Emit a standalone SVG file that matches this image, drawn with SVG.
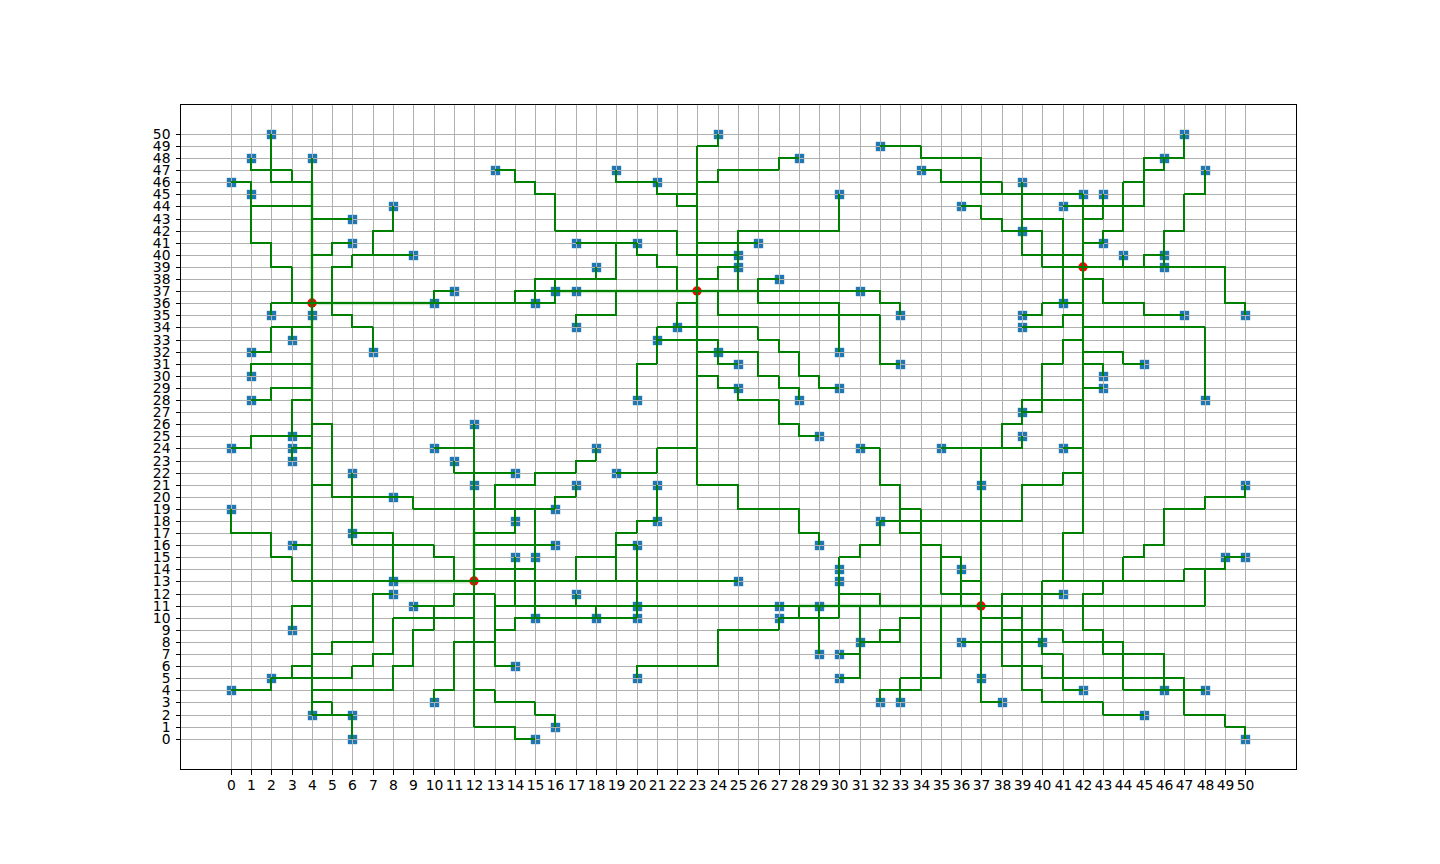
<svg xmlns="http://www.w3.org/2000/svg" width="1440" height="864" viewBox="0 0 1440 864">
<style>
text{font-family:"DejaVu Sans",sans-serif;font-size:13.89px;fill:#000}
.xl text{text-anchor:middle}
.yl text{text-anchor:end}
.gl{fill:none;stroke:#b0b0b0;stroke-width:1;vector-effect:non-scaling-stroke;shape-rendering:crispEdges}
.tk{fill:none;stroke:#000;stroke-width:1;vector-effect:non-scaling-stroke;shape-rendering:crispEdges}
#connectors path{fill:none;stroke:#008000;stroke-width:2;stroke-linejoin:round;vector-effect:non-scaling-stroke;shape-rendering:crispEdges}
#halos path{fill:none;stroke:#008000;stroke-opacity:.18;stroke-width:4;vector-effect:non-scaling-stroke}
</style>
<defs>
<g id="m"><rect x="-5.5" y="-5.5" width="11" height="11" rx="2" fill="#1f77b4" fill-opacity=".2"/><rect x="-4.5" y="-4.5" width="9" height="9" fill="#1f77b4"/></g>
<circle id="r" cx="-.5" cy="-.5" r="4.7" fill="#f00"/>
</defs>
<rect width="1440" height="864" fill="#fff"/>
<g id="nodes" transform="translate(.5 .5)">
<g id="n2_50"><use href="#m" x="271" y="134"/></g>
<g id="n1_48"><use href="#m" x="251" y="158"/></g>
<g id="n4_48"><use href="#m" x="312" y="158"/></g>
<g id="n0_46"><use href="#m" x="231" y="182"/></g>
<g id="n1_45"><use href="#m" x="251" y="194"/></g>
<g id="n6_43"><use href="#m" x="352" y="219"/></g>
<g id="n8_44"><use href="#m" x="393" y="206"/></g>
<g id="n6_41"><use href="#m" x="352" y="243"/></g>
<g id="n9_40"><use href="#m" x="413" y="255"/></g>
<g id="n11_37"><use href="#m" x="454" y="291"/></g>
<g id="n10_36"><use href="#m" x="434" y="303"/></g>
<g id="n2_35"><use href="#m" x="271" y="315"/></g>
<g id="n4_35"><use href="#m" x="312" y="315"/></g>
<g id="n3_33"><use href="#m" x="292" y="340"/></g>
<g id="n7_32"><use href="#m" x="373" y="352"/></g>
<g id="n1_32"><use href="#m" x="251" y="352"/></g>
<g id="n1_30"><use href="#m" x="251" y="376"/></g>
<g id="n1_28"><use href="#m" x="251" y="400"/></g>
<g id="n3_25"><use href="#m" x="292" y="436"/></g>
<g id="n0_24"><use href="#m" x="231" y="448"/></g>
<g id="n3_24"><use href="#m" x="292" y="448"/></g>
<g id="n3_23"><use href="#m" x="292" y="461"/></g>
<g id="n10_24"><use href="#m" x="434" y="448"/></g>
<g id="n11_23"><use href="#m" x="454" y="461"/></g>
<g id="n12_26"><use href="#m" x="474" y="424"/></g>
<g id="n6_22"><use href="#m" x="352" y="473"/></g>
<g id="n8_20"><use href="#m" x="393" y="497"/></g>
<g id="n0_19"><use href="#m" x="231" y="509"/></g>
<g id="n6_17"><use href="#m" x="352" y="533"/></g>
<g id="n3_16"><use href="#m" x="292" y="545"/></g>
<g id="n8_13"><use href="#m" x="393" y="581"/></g>
<g id="n8_12"><use href="#m" x="393" y="594"/></g>
<g id="n3_9"><use href="#m" x="292" y="630"/></g>
<g id="n9_11"><use href="#m" x="413" y="606"/></g>
<g id="n2_5"><use href="#m" x="271" y="678"/></g>
<g id="n0_4"><use href="#m" x="231" y="690"/></g>
<g id="n4_2"><use href="#m" x="312" y="715"/></g>
<g id="n6_2"><use href="#m" x="352" y="715"/></g>
<g id="n6_0"><use href="#m" x="352" y="739"/></g>
<g id="n10_3"><use href="#m" x="434" y="702"/></g>
<g id="n13_47"><use href="#m" x="495" y="170"/></g>
<g id="n19_47"><use href="#m" x="616" y="170"/></g>
<g id="n21_46"><use href="#m" x="657" y="182"/></g>
<g id="n24_50"><use href="#m" x="718" y="134"/></g>
<g id="n17_41"><use href="#m" x="576" y="243"/></g>
<g id="n20_41"><use href="#m" x="637" y="243"/></g>
<g id="n18_39"><use href="#m" x="596" y="267"/></g>
<g id="n15_36"><use href="#m" x="535" y="303"/></g>
<g id="n16_37"><use href="#m" x="555" y="291"/></g>
<g id="n17_37"><use href="#m" x="576" y="291"/></g>
<g id="n17_34"><use href="#m" x="576" y="327"/></g>
<g id="n22_34"><use href="#m" x="677" y="327"/></g>
<g id="n21_33"><use href="#m" x="657" y="340"/></g>
<g id="n24_32"><use href="#m" x="718" y="352"/></g>
<g id="n20_28"><use href="#m" x="637" y="400"/></g>
<g id="n18_24"><use href="#m" x="596" y="448"/></g>
<g id="n14_22"><use href="#m" x="515" y="473"/></g>
<g id="n12_21"><use href="#m" x="474" y="485"/></g>
<g id="n17_21"><use href="#m" x="576" y="485"/></g>
<g id="n19_22"><use href="#m" x="616" y="473"/></g>
<g id="n21_21"><use href="#m" x="657" y="485"/></g>
<g id="n21_18"><use href="#m" x="657" y="521"/></g>
<g id="n20_16"><use href="#m" x="637" y="545"/></g>
<g id="n16_19"><use href="#m" x="555" y="509"/></g>
<g id="n14_18"><use href="#m" x="515" y="521"/></g>
<g id="n16_16"><use href="#m" x="555" y="545"/></g>
<g id="n14_15"><use href="#m" x="515" y="557"/></g>
<g id="n15_15"><use href="#m" x="535" y="557"/></g>
<g id="n17_12"><use href="#m" x="576" y="594"/></g>
<g id="n15_10"><use href="#m" x="535" y="618"/></g>
<g id="n18_10"><use href="#m" x="596" y="618"/></g>
<g id="n20_11"><use href="#m" x="637" y="606"/></g>
<g id="n20_10"><use href="#m" x="637" y="618"/></g>
<g id="n14_6"><use href="#m" x="515" y="666"/></g>
<g id="n20_5"><use href="#m" x="637" y="678"/></g>
<g id="n15_0"><use href="#m" x="535" y="739"/></g>
<g id="n16_1"><use href="#m" x="555" y="727"/></g>
<g id="n28_48"><use href="#m" x="799" y="158"/></g>
<g id="n30_45"><use href="#m" x="839" y="194"/></g>
<g id="n26_41"><use href="#m" x="758" y="243"/></g>
<g id="n25_40"><use href="#m" x="738" y="255"/></g>
<g id="n25_39"><use href="#m" x="738" y="267"/></g>
<g id="n27_38"><use href="#m" x="779" y="279"/></g>
<g id="n32_49"><use href="#m" x="880" y="146"/></g>
<g id="n34_47"><use href="#m" x="921" y="170"/></g>
<g id="n36_44"><use href="#m" x="961" y="206"/></g>
<g id="n31_37"><use href="#m" x="860" y="291"/></g>
<g id="n33_35"><use href="#m" x="900" y="315"/></g>
<g id="n30_32"><use href="#m" x="839" y="352"/></g>
<g id="n33_31"><use href="#m" x="900" y="364"/></g>
<g id="n25_31"><use href="#m" x="738" y="364"/></g>
<g id="n30_29"><use href="#m" x="839" y="388"/></g>
<g id="n25_29"><use href="#m" x="738" y="388"/></g>
<g id="n28_28"><use href="#m" x="799" y="400"/></g>
<g id="n29_25"><use href="#m" x="819" y="436"/></g>
<g id="n31_24"><use href="#m" x="860" y="448"/></g>
<g id="n35_24"><use href="#m" x="941" y="448"/></g>
<g id="n37_21"><use href="#m" x="981" y="485"/></g>
<g id="n32_18"><use href="#m" x="880" y="521"/></g>
<g id="n29_16"><use href="#m" x="819" y="545"/></g>
<g id="n25_13"><use href="#m" x="738" y="581"/></g>
<g id="n27_11"><use href="#m" x="779" y="606"/></g>
<g id="n29_11"><use href="#m" x="819" y="606"/></g>
<g id="n27_10"><use href="#m" x="779" y="618"/></g>
<g id="n30_14"><use href="#m" x="839" y="569"/></g>
<g id="n30_13"><use href="#m" x="839" y="581"/></g>
<g id="n31_8"><use href="#m" x="860" y="642"/></g>
<g id="n29_7"><use href="#m" x="819" y="654"/></g>
<g id="n30_7"><use href="#m" x="839" y="654"/></g>
<g id="n30_5"><use href="#m" x="839" y="678"/></g>
<g id="n32_3"><use href="#m" x="880" y="702"/></g>
<g id="n33_3"><use href="#m" x="900" y="702"/></g>
<g id="n36_14"><use href="#m" x="961" y="569"/></g>
<g id="n36_8"><use href="#m" x="961" y="642"/></g>
<g id="n37_5"><use href="#m" x="981" y="678"/></g>
<g id="n38_3"><use href="#m" x="1002" y="702"/></g>
<g id="n39_46"><use href="#m" x="1022" y="182"/></g>
<g id="n42_45"><use href="#m" x="1083" y="194"/></g>
<g id="n43_45"><use href="#m" x="1103" y="194"/></g>
<g id="n41_44"><use href="#m" x="1063" y="206"/></g>
<g id="n39_42"><use href="#m" x="1022" y="231"/></g>
<g id="n43_41"><use href="#m" x="1103" y="243"/></g>
<g id="n44_40"><use href="#m" x="1123" y="255"/></g>
<g id="n46_40"><use href="#m" x="1164" y="255"/></g>
<g id="n46_39"><use href="#m" x="1164" y="267"/></g>
<g id="n47_50"><use href="#m" x="1184" y="134"/></g>
<g id="n46_48"><use href="#m" x="1164" y="158"/></g>
<g id="n48_47"><use href="#m" x="1205" y="170"/></g>
<g id="n41_36"><use href="#m" x="1063" y="303"/></g>
<g id="n39_35"><use href="#m" x="1022" y="315"/></g>
<g id="n39_34"><use href="#m" x="1022" y="327"/></g>
<g id="n47_35"><use href="#m" x="1184" y="315"/></g>
<g id="n50_35"><use href="#m" x="1245" y="315"/></g>
<g id="n48_28"><use href="#m" x="1205" y="400"/></g>
<g id="n45_31"><use href="#m" x="1144" y="364"/></g>
<g id="n43_30"><use href="#m" x="1103" y="376"/></g>
<g id="n43_29"><use href="#m" x="1103" y="388"/></g>
<g id="n39_27"><use href="#m" x="1022" y="412"/></g>
<g id="n39_25"><use href="#m" x="1022" y="436"/></g>
<g id="n41_24"><use href="#m" x="1063" y="448"/></g>
<g id="n50_21"><use href="#m" x="1245" y="485"/></g>
<g id="n49_15"><use href="#m" x="1225" y="557"/></g>
<g id="n50_15"><use href="#m" x="1245" y="557"/></g>
<g id="n41_12"><use href="#m" x="1063" y="594"/></g>
<g id="n40_8"><use href="#m" x="1042" y="642"/></g>
<g id="n42_4"><use href="#m" x="1083" y="690"/></g>
<g id="n46_4"><use href="#m" x="1164" y="690"/></g>
<g id="n48_4"><use href="#m" x="1205" y="690"/></g>
<g id="n45_2"><use href="#m" x="1144" y="715"/></g>
<g id="n50_0"><use href="#m" x="1245" y="739"/></g>
<g id="s4_36"><use href="#r" x="312" y="303"/></g>
<g id="s23_37"><use href="#r" x="697" y="291"/></g>
<g id="s42_39"><use href="#r" x="1083" y="267"/></g>
<g id="s12_13"><use href="#r" x="474" y="581"/></g>
<g id="s37_11"><use href="#r" x="981" y="606"/></g>
</g>
<g id="grid" transform="matrix(20.29 0 0 -12.096 231.23 739.22)">
<path class="gl" d="M0-2.5V52.5M1-2.5V52.5M2-2.5V52.5M3-2.5V52.5M4-2.5V52.5M5-2.5V52.5M6-2.5V52.5M7-2.5V52.5M8-2.5V52.5M9-2.5V52.5M10-2.5V52.5M11-2.5V52.5M12-2.5V52.5M13-2.5V52.5M14-2.5V52.5M15-2.5V52.5M16-2.5V52.5M17-2.5V52.5M18-2.5V52.5M19-2.5V52.5M20-2.5V52.5M21-2.5V52.5M22-2.5V52.5M23-2.5V52.5M24-2.5V52.5M25-2.5V52.5M26-2.5V52.5M27-2.5V52.5M28-2.5V52.5M29-2.5V52.5M30-2.5V52.5M31-2.5V52.5M32-2.5V52.5M33-2.5V52.5M34-2.5V52.5M35-2.5V52.5M36-2.5V52.5M37-2.5V52.5M38-2.5V52.5M39-2.5V52.5M40-2.5V52.5M41-2.5V52.5M42-2.5V52.5M43-2.5V52.5M44-2.5V52.5M45-2.5V52.5M46-2.5V52.5M47-2.5V52.5M48-2.5V52.5M49-2.5V52.5M50-2.5V52.5"/>
<path class="gl" d="M-2.5 0H52.5M-2.5 1H52.5M-2.5 2H52.5M-2.5 3H52.5M-2.5 4H52.5M-2.5 5H52.5M-2.5 6H52.5M-2.5 7H52.5M-2.5 8H52.5M-2.5 9H52.5M-2.5 10H52.5M-2.5 11H52.5M-2.5 12H52.5M-2.5 13H52.5M-2.5 14H52.5M-2.5 15H52.5M-2.5 16H52.5M-2.5 17H52.5M-2.5 18H52.5M-2.5 19H52.5M-2.5 20H52.5M-2.5 21H52.5M-2.5 22H52.5M-2.5 23H52.5M-2.5 24H52.5M-2.5 25H52.5M-2.5 26H52.5M-2.5 27H52.5M-2.5 28H52.5M-2.5 29H52.5M-2.5 30H52.5M-2.5 31H52.5M-2.5 32H52.5M-2.5 33H52.5M-2.5 34H52.5M-2.5 35H52.5M-2.5 36H52.5M-2.5 37H52.5M-2.5 38H52.5M-2.5 39H52.5M-2.5 40H52.5M-2.5 41H52.5M-2.5 42H52.5M-2.5 43H52.5M-2.5 44H52.5M-2.5 45H52.5M-2.5 46H52.5M-2.5 47H52.5M-2.5 48H52.5M-2.5 49H52.5M-2.5 50H52.5"/>
</g>
<g id="halos" transform="matrix(20.29 0 0 -12.096 230.73 738.72)">
<path d="M4 46V28M4 36H10M16 37H26M23 37V34M12 18V13M8 13H12M28 11H37"/>
</g>
<g id="connectors" transform="matrix(20.29 0 0 -12.096 230.73 738.72)">
<path d="M2 50V46H4"/><path d="M1 48V47H3V46"/><path d="M0 46H1V41H2V39H3V36"/><path d="M1 44H4"/><path d="M4 48V2"/><path d="M6 43H4"/><path d="M6 41H5V40H4"/><path d="M8 44V42H7V40"/><path d="M9 40H6V39H5V35H6V34H7V32"/>
<path d="M2 35V36H16V38"/><path d="M11 37H10V36"/><path d="M14 36V37H32V36H33V35"/><path d="M15 36V38H19V41"/><path d="M17 41H20V40H21V39H22V37"/><path d="M18 39V38"/><path d="M19 37V35H17V34"/>
<path d="M13 47H14V46H15V45H16V42H22V40H25"/><path d="M19 47V46H21V45H23"/><path d="M22 45V44H23"/><path d="M24 50V49H23V21H25V19H28V17H29V16"/><path d="M23 46H24V47H27V48H28"/><path d="M23 41H26"/><path d="M23 38H24V39H25"/><path d="M25 37V42H30V45"/><path d="M27 38H26V36H30V32"/><path d="M24 37V35H32V31H33"/><path d="M22 34V36H23"/><path d="M21 33H24V31H25"/><path d="M21 31V34H26V33H27V32H28V30H29V29H30"/><path d="M21 31H20V28"/><path d="M23 32H26V30H27V29H28V28"/><path d="M23 30H24V29H25V28H27V26H28V25H29"/><path d="M23 24H21V22H19"/><path d="M18 24V23H17V22H15V21H13V19"/>
<path d="M4 21H5"/><path d="M4 26H5V20H9V19H16"/><path d="M14 22H11V23"/><path d="M10 24H12"/><path d="M12 26V1H14V0H15"/><path d="M17 21V20H16V19"/><path d="M15 19V10"/><path d="M14 19V17H12"/><path d="M12 16H16"/><path d="M12 14H15"/><path d="M14 15V11"/><path d="M21 21V18H20V17H19V13"/><path d="M19 16H20V10"/><path d="M17 13V15H19"/><path d="M3 13H25"/><path d="M14 6H13V12H11V11H9"/><path d="M13 11H48V14"/><path d="M40 13H47V14H49V15H50"/><path d="M17 12V11"/><path d="M18 11V10"/><path d="M20 10H14V9H13"/><path d="M8 10H12"/><path d="M10 3V4H11V8H13"/><path d="M12 4H13V3H15V2H16V1"/><path d="M20 5V6H24V9H27V10"/>
<path d="M6 22V16H10V15H11V13"/><path d="M6 17H8V13"/><path d="M0 19V17H2V15H3V13"/><path d="M3 16H4"/><path d="M8 12H7V8H5V7H4"/><path d="M3 9V11H4"/><path d="M10 11V9H9V6H8V4H4"/><path d="M8 10V7H7V6H6V5H2V4H0"/><path d="M3 5V6H4"/><path d="M4 3H5V2H4"/><path d="M4 2H6V0"/><path d="M1 32H2V34H4"/><path d="M3 34V33"/><path d="M1 30V31H4"/><path d="M1 28H2V29H4"/><path d="M3 25V28H4"/><path d="M0 24H1V25H4"/><path d="M3 23V24H4"/>
<path d="M27 10H30"/><path d="M30 10V15H31V16H32V18"/><path d="M30 12H32V11"/><path d="M28 11V10"/><path d="M29 11V7"/><path d="M31 11V5H30"/><path d="M30 7H31"/><path d="M31 8H33V10H34"/><path d="M32 8V9H33"/><path d="M31 24H32V21H33V19H34V16H35V12H37"/><path d="M33 19V17H34"/><path d="M34 16V4H32V3"/><path d="M35 11V5H33V3"/><path d="M35 15H36V11"/><path d="M36 13H37"/><path d="M35 24H39V25"/><path d="M37 24V3H38"/><path d="M32 18H39V21H41V22H42"/><path d="M38 24V26H39V28H42"/><path d="M39 27H40V31H41V33H42"/><path d="M41 24H42"/><path d="M42 45V17H41V13"/><path d="M43 29H42"/><path d="M43 30V31H42"/><path d="M42 32H44V31H45"/><path d="M42 34H48V28"/><path d="M39 34H41V35H42"/><path d="M39 35H40V36H42"/><path d="M41 36V43H39"/><path d="M39 46V40H42"/><path d="M32 49H34V48H37V45H42"/><path d="M34 47H35V46H38V45"/><path d="M36 44H37V43H38V42H40V39H49V36H50V35"/><path d="M47 50V48H45V44H41"/><path d="M46 48V47H45"/><path d="M45 46H44V42H43V41H42"/><path d="M43 45V43H42"/><path d="M44 40V39"/><path d="M46 39V42H47V45H48V47"/><path d="M46 40H45V39"/><path d="M42 38H43V36H45V35H47"/><path d="M50 21V20H48V19H46V16H45V15H44V13"/><path d="M41 12H38V6H40V5H47V2H49V1H50V0"/><path d="M43 13V12H42V9H43V7H46V4"/><path d="M38 9H41V8H44V4H48"/><path d="M40 13V7H41V4H42"/><path d="M39 11V4H40V3H43V2H45"/><path d="M37 10H39"/><path d="M36 8H40"/>
</g>
<rect x="180.5" y="104.5" width="1116" height="665" fill="none" stroke="#000" stroke-width="1" shape-rendering="crispEdges"/>
<g transform="matrix(20.29 0 0 1 231.23 769.5)"><path class="tk" d="M0 0v5M1 0v5M2 0v5M3 0v5M4 0v5M5 0v5M6 0v5M7 0v5M8 0v5M9 0v5M10 0v5M11 0v5M12 0v5M13 0v5M14 0v5M15 0v5M16 0v5M17 0v5M18 0v5M19 0v5M20 0v5M21 0v5M22 0v5M23 0v5M24 0v5M25 0v5M26 0v5M27 0v5M28 0v5M29 0v5M30 0v5M31 0v5M32 0v5M33 0v5M34 0v5M35 0v5M36 0v5M37 0v5M38 0v5M39 0v5M40 0v5M41 0v5M42 0v5M43 0v5M44 0v5M45 0v5M46 0v5M47 0v5M48 0v5M49 0v5M50 0v5"/></g>
<g transform="matrix(1 0 0 -12.096 180.5 739.22)"><path class="tk" d="M0 0h-5M0 1h-5M0 2h-5M0 3h-5M0 4h-5M0 5h-5M0 6h-5M0 7h-5M0 8h-5M0 9h-5M0 10h-5M0 11h-5M0 12h-5M0 13h-5M0 14h-5M0 15h-5M0 16h-5M0 17h-5M0 18h-5M0 19h-5M0 20h-5M0 21h-5M0 22h-5M0 23h-5M0 24h-5M0 25h-5M0 26h-5M0 27h-5M0 28h-5M0 29h-5M0 30h-5M0 31h-5M0 32h-5M0 33h-5M0 34h-5M0 35h-5M0 36h-5M0 37h-5M0 38h-5M0 39h-5M0 40h-5M0 41h-5M0 42h-5M0 43h-5M0 44h-5M0 45h-5M0 46h-5M0 47h-5M0 48h-5M0 49h-5M0 50h-5"/></g>
<g class="xl" transform="translate(.5 0)">
<text x="231" y="790">0</text><text x="251" y="790">1</text><text x="271" y="790">2</text><text x="292" y="790">3</text><text x="312" y="790">4</text><text x="332" y="790">5</text><text x="352" y="790">6</text><text x="373" y="790">7</text><text x="393" y="790">8</text><text x="413" y="790">9</text><text x="434" y="790">10</text><text x="454" y="790">11</text><text x="474" y="790">12</text><text x="495" y="790">13</text><text x="515" y="790">14</text><text x="535" y="790">15</text><text x="555" y="790">16</text><text x="576" y="790">17</text><text x="596" y="790">18</text><text x="616" y="790">19</text><text x="637" y="790">20</text><text x="657" y="790">21</text><text x="677" y="790">22</text><text x="697" y="790">23</text><text x="718" y="790">24</text><text x="738" y="790">25</text><text x="758" y="790">26</text><text x="779" y="790">27</text><text x="799" y="790">28</text><text x="819" y="790">29</text><text x="839" y="790">30</text><text x="860" y="790">31</text><text x="880" y="790">32</text><text x="900" y="790">33</text><text x="921" y="790">34</text><text x="941" y="790">35</text><text x="961" y="790">36</text><text x="981" y="790">37</text><text x="1002" y="790">38</text><text x="1022" y="790">39</text><text x="1042" y="790">40</text><text x="1063" y="790">41</text><text x="1083" y="790">42</text><text x="1103" y="790">43</text><text x="1123" y="790">44</text><text x="1144" y="790">45</text><text x="1164" y="790">46</text><text x="1184" y="790">47</text><text x="1205" y="790">48</text><text x="1225" y="790">49</text><text x="1245" y="790">50</text>
</g>
<g class="yl">
<text x="170.5" y="744">0</text><text x="170.5" y="732">1</text><text x="170.5" y="720">2</text><text x="170.5" y="707">3</text><text x="170.5" y="695">4</text><text x="170.5" y="683">5</text><text x="170.5" y="671">6</text><text x="170.5" y="659">7</text><text x="170.5" y="647">8</text><text x="170.5" y="635">9</text><text x="170.5" y="623">10</text><text x="170.5" y="611">11</text><text x="170.5" y="599">12</text><text x="170.5" y="586">13</text><text x="170.5" y="574">14</text><text x="170.5" y="562">15</text><text x="170.5" y="550">16</text><text x="170.5" y="538">17</text><text x="170.5" y="526">18</text><text x="170.5" y="514">19</text><text x="170.5" y="502">20</text><text x="170.5" y="490">21</text><text x="170.5" y="478">22</text><text x="170.5" y="466">23</text><text x="170.5" y="453">24</text><text x="170.5" y="441">25</text><text x="170.5" y="429">26</text><text x="170.5" y="417">27</text><text x="170.5" y="405">28</text><text x="170.5" y="393">29</text><text x="170.5" y="381">30</text><text x="170.5" y="369">31</text><text x="170.5" y="357">32</text><text x="170.5" y="345">33</text><text x="170.5" y="332">34</text><text x="170.5" y="320">35</text><text x="170.5" y="308">36</text><text x="170.5" y="296">37</text><text x="170.5" y="284">38</text><text x="170.5" y="272">39</text><text x="170.5" y="260">40</text><text x="170.5" y="248">41</text><text x="170.5" y="236">42</text><text x="170.5" y="224">43</text><text x="170.5" y="211">44</text><text x="170.5" y="199">45</text><text x="170.5" y="187">46</text><text x="170.5" y="175">47</text><text x="170.5" y="163">48</text><text x="170.5" y="151">49</text><text x="170.5" y="139">50</text>
</g>
</svg>
